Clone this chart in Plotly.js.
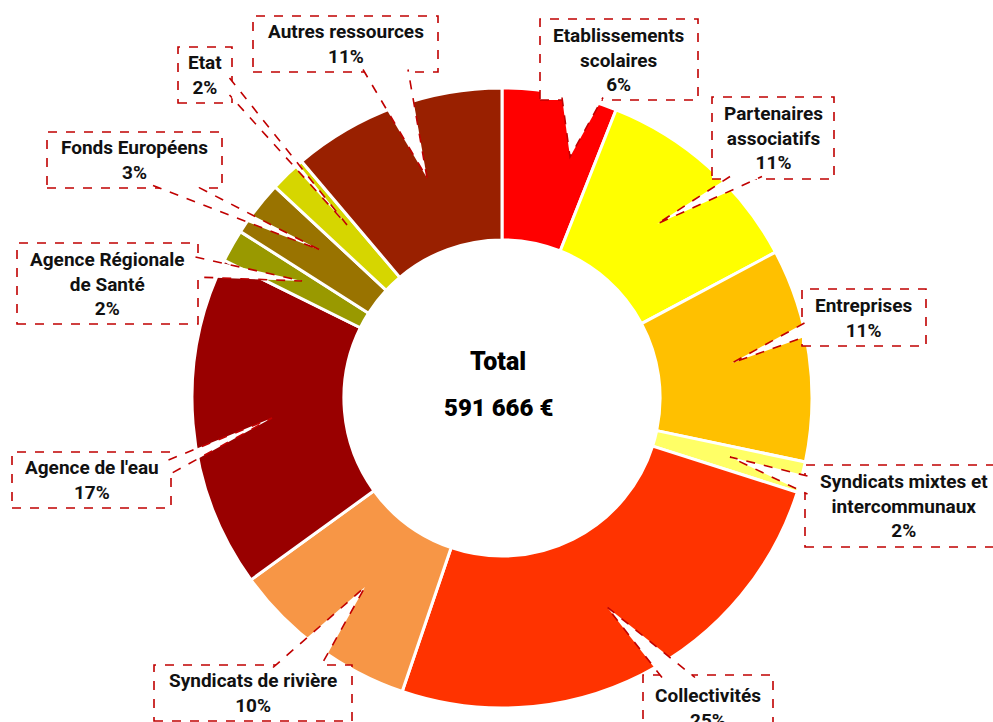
<!DOCTYPE html>
<html>
<head>
<meta charset="utf-8">
<script src="https://cdn.plot.ly/plotly-3.0.1.min.js"></script>
<style>html,body{margin:0;padding:0;background:#fff}#chart{width:993px;height:722px}</style>
</head>
<body>
<div id="chart"></div>
<script>
// ---- data ----
const labels = ["Etablissements scolaires", "Partenaires associatifs", "Entreprises", "Syndicats mixtes et intercommunaux", "Collectivités", "Syndicats de rivière", "Agence de l'eau", "Agence Régionale de Santé", "Fonds Européens", "Etat", "Autres ressources"];
const labelLines = ["Etablissements<br>scolaires", "Partenaires<br>associatifs", "Entreprises", "Syndicats mixtes et<br>intercommunaux", "Collectivités", "Syndicats de rivière", "Agence de l'eau", "Agence Régionale<br>de Santé", "Fonds Européens", "Etat", "Autres ressources"];
const values = [35500, 66300, 65700, 9500, 149700, 58000, 102400, 10000, 17200, 11200, 66166];
const colors = ["#FF0000", "#FFFF00", "#FFC000", "#FFFF66", "#FF3300", "#F79646", "#990000", "#999900", "#997300", "#D6D600", "#992000"];
const totalLabel = "Total";
const totalText = "591 666 €";

// ---- callout layout (pixels): box [x0,y0,x1,y1], wedge base points, wedge tip ----
const boxes = [[540,19,698,100],[712,97,834,179],[802,289,926,346],[805,465,1003,547],[643,675,773,740],[154,665,352,721],[12,452,171,508],[17,243,198,324],[47,132,222,188],[178,47,232,103],[253,16,438,72]];
const bases = [[[562,100],[603,100]],[[730,179],[762,179]],[[802,323],[802,337]],[[805,476],[805,494]],[[662,675],[695,675]],[[273,665],[320,665]],[[171,460],[171,475]],[[198,257],[198,277]],[[153,188],[195,188]],[[232,78],[232,95]],[[363,72],[408,72]]];
const tips = [[570,157],[657,224],[732,363],[730,457],[607,607],[365,587],[272,418],[302,281],[320,250],[347,225],[427,178]];

const W = 993, H = 722;
const px = x => x / W;
const py = y => 1 - y / H;
const total = values.reduce((a, b) => a + b, 0);
const red = "#C00000";

const shapes = [];
const annotations = [];
for (let i = 0; i < labels.length; i++) {
  const [x0, y0, x1, y1] = boxes[i];
  shapes.push({type: "rect", xref: "paper", yref: "paper", x0: px(x0), x1: px(x1), y0: py(y1), y1: py(y0),
    line: {color: red, width: 1.6, dash: "dash"}, fillcolor: "#FFFFFF", layer: "above"});
  const nb = bases[i].map(([x, y]) => {
    if (x === x0) x += 2.5; else if (x === x1) x -= 2.5;
    if (y === y0) y += 2.5; else if (y === y1) y -= 2.5;
    return [x, y];
  });
  const t = tips[i];
  const path = `M ${px(nb[0][0])},${py(nb[0][1])} L ${px(t[0])},${py(t[1])} L ${px(nb[1][0])},${py(nb[1][1])}`;
  shapes.push({type: "path", xref: "paper", yref: "paper", path: path,
    line: {color: red, width: 1.6, dash: "dash"}, fillcolor: "#FFFFFF", layer: "above"});
  const pct = Math.round(values[i] / total * 100) + "%";
  annotations.push({xref: "paper", yref: "paper", x: px((x0 + x1) / 2), y: py((y0 + y1) / 2),
    xanchor: "center", yanchor: "middle", showarrow: false, align: "center",
    text: labelLines[i] + "<br>" + pct,
    font: {family: "Roboto, sans-serif", size: 19, weight: 700, color: "#111111"}});
}
annotations.push({xref: "paper", yref: "paper", x: px(498), y: py(361), xanchor: "center", yanchor: "middle",
  showarrow: false, text: totalLabel, font: {family: "Roboto, sans-serif", size: 25, weight: 900, color: "#000"}});
annotations.push({xref: "paper", yref: "paper", x: px(498), y: py(408), xanchor: "center", yanchor: "middle",
  showarrow: false, text: totalText, font: {family: "Roboto, sans-serif", size: 24, weight: 900, color: "#000"}});

const trace = {
  type: "pie", labels: labels, values: values, hole: 0.51, sort: false, direction: "clockwise", rotation: 0,
  marker: {colors: colors, line: {color: "#FFFFFF", width: 3}},
  textinfo: "none", hoverinfo: "label+value+percent", showlegend: false,
  domain: {x: [px(192), px(812)], y: [py(708), py(88)]}
};

Plotly.newPlot("chart", [trace], {
  width: W, height: H, margin: {l: 0, r: 0, t: 0, b: 0},
  paper_bgcolor: "#FFFFFF", plot_bgcolor: "#FFFFFF",
  shapes: shapes, annotations: annotations, showlegend: false
}, {displayModeBar: false, staticPlot: true});
</script>
</body>
</html>
